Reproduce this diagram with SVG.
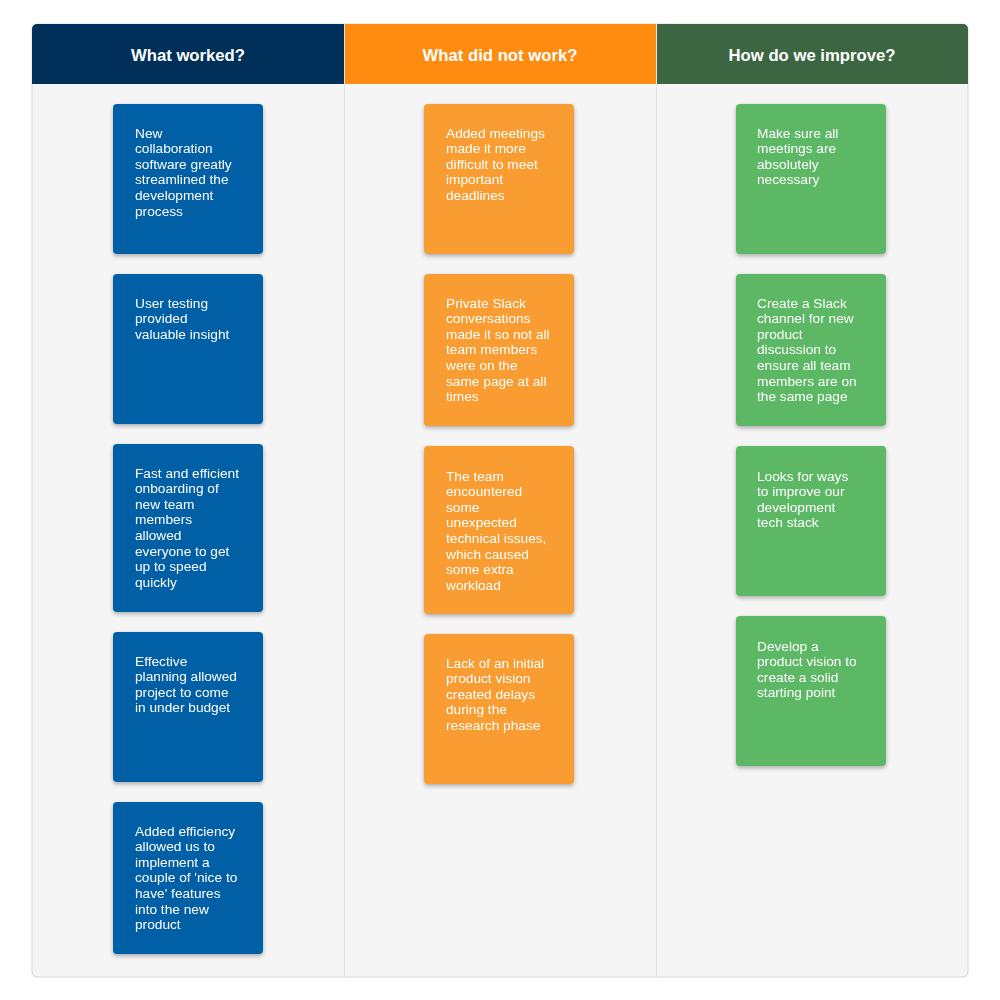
<svg xmlns="http://www.w3.org/2000/svg" width="1000" height="1000" viewBox="0 0 1000 1000">
<defs>
<filter id="sh" x="-20%" y="-20%" width="140%" height="140%">
<feDropShadow dx="0" dy="2" stdDeviation="2" flood-color="#000" flood-opacity="0.3"/>
</filter>
<clipPath id="board"><rect x="32" y="24" width="936" height="953" rx="5"/></clipPath>
</defs>
<style>
.hd{font-family:"Liberation Sans",Arial,sans-serif;font-size:16.7px;font-weight:bold;fill:#fff;text-anchor:middle}
.tx{font-family:"Liberation Sans",Arial,sans-serif;font-size:13.7px;fill:#fff}
.card{filter:url(#sh)}
.b{fill:#015ea5}.o{fill:#f99d31}.g{fill:#5db866}
</style>
<rect width="1000" height="1000" fill="#fff"/>
<g id="board-bg">
<rect x="32" y="24" width="936" height="953" rx="5" fill="#f5f5f5" stroke="#d8d8d8" stroke-width="1"/>
<g clip-path="url(#board)">
<rect x="32" y="24" width="312" height="60" fill="#00305a"/>
<rect x="344" y="24" width="312" height="60" fill="#ff8c10"/>
<rect x="656" y="24" width="312" height="60" fill="#3c6641"/>
</g>
<line x1="344.5" y1="24" x2="344.5" y2="977" stroke="#e2e2e2"/>
<line x1="656.5" y1="24" x2="656.5" y2="977" stroke="#e2e2e2"/>
<text class="hd" x="188" y="61">What worked?</text>
<text class="hd" x="500" y="61">What did not work?</text>
<text class="hd" x="812" y="61">How do we improve?</text>
</g>
<g id="connectors"></g>
<g id="c1-1" class="card"><rect class="b" x="113" y="104" width="150" height="150" rx="4"/>
<text class="tx" x="135" y="137.5"><tspan x="135">New</tspan><tspan x="135" dy="15.6">collaboration</tspan><tspan x="135" dy="15.6">software greatly</tspan><tspan x="135" dy="15.6">streamlined the</tspan><tspan x="135" dy="15.6">development</tspan><tspan x="135" dy="15.6">process</tspan></text></g>
<g id="c1-2" class="card"><rect class="b" x="113" y="274" width="150" height="150" rx="4"/>
<text class="tx" x="135" y="307.5"><tspan x="135">User testing</tspan><tspan x="135" dy="15.6">provided</tspan><tspan x="135" dy="15.6">valuable insight</tspan></text></g>
<g id="c1-3" class="card"><rect class="b" x="113" y="444" width="150" height="168" rx="4"/>
<text class="tx" x="135" y="477.5"><tspan x="135">Fast and efficient</tspan><tspan x="135" dy="15.6">onboarding of</tspan><tspan x="135" dy="15.6">new team</tspan><tspan x="135" dy="15.6">members</tspan><tspan x="135" dy="15.6">allowed</tspan><tspan x="135" dy="15.6">everyone to get</tspan><tspan x="135" dy="15.6">up to speed</tspan><tspan x="135" dy="15.6">quickly</tspan></text></g>
<g id="c1-4" class="card"><rect class="b" x="113" y="632" width="150" height="150" rx="4"/>
<text class="tx" x="135" y="665.5"><tspan x="135">Effective</tspan><tspan x="135" dy="15.6">planning allowed</tspan><tspan x="135" dy="15.6">project to come</tspan><tspan x="135" dy="15.6">in under budget</tspan></text></g>
<g id="c1-5" class="card"><rect class="b" x="113" y="802" width="150" height="152" rx="4"/>
<text class="tx" x="135" y="835.5"><tspan x="135">Added efficiency</tspan><tspan x="135" dy="15.6">allowed us to</tspan><tspan x="135" dy="15.6">implement a</tspan><tspan x="135" dy="15.6">couple of 'nice to</tspan><tspan x="135" dy="15.6">have' features</tspan><tspan x="135" dy="15.6">into the new</tspan><tspan x="135" dy="15.6">product</tspan></text></g>
<g id="c2-1" class="card"><rect class="o" x="424" y="104" width="150" height="150" rx="4"/>
<text class="tx" x="446" y="137.5"><tspan x="446">Added meetings</tspan><tspan x="446" dy="15.6">made it more</tspan><tspan x="446" dy="15.6">difficult to meet</tspan><tspan x="446" dy="15.6">important</tspan><tspan x="446" dy="15.6">deadlines</tspan></text></g>
<g id="c2-2" class="card"><rect class="o" x="424" y="274" width="150" height="152" rx="4"/>
<text class="tx" x="446" y="307.5"><tspan x="446">Private Slack</tspan><tspan x="446" dy="15.6">conversations</tspan><tspan x="446" dy="15.6">made it so not all</tspan><tspan x="446" dy="15.6">team members</tspan><tspan x="446" dy="15.6">were on the</tspan><tspan x="446" dy="15.6">same page at all</tspan><tspan x="446" dy="15.6">times</tspan></text></g>
<g id="c2-3" class="card"><rect class="o" x="424" y="446" width="150" height="168" rx="4"/>
<text class="tx" x="446" y="480.5"><tspan x="446">The team</tspan><tspan x="446" dy="15.6">encountered</tspan><tspan x="446" dy="15.6">some</tspan><tspan x="446" dy="15.6">unexpected</tspan><tspan x="446" dy="15.6">technical issues,</tspan><tspan x="446" dy="15.6">which caused</tspan><tspan x="446" dy="15.6">some extra</tspan><tspan x="446" dy="15.6">workload</tspan></text></g>
<g id="c2-4" class="card"><rect class="o" x="424" y="634" width="150" height="150" rx="4"/>
<text class="tx" x="446" y="667.5"><tspan x="446">Lack of an initial</tspan><tspan x="446" dy="15.6">product vision</tspan><tspan x="446" dy="15.6">created delays</tspan><tspan x="446" dy="15.6">during the</tspan><tspan x="446" dy="15.6">research phase</tspan></text></g>
<g id="c3-1" class="card"><rect class="g" x="736" y="104" width="150" height="150" rx="4"/>
<text class="tx" x="757" y="137.5"><tspan x="757">Make sure all</tspan><tspan x="757" dy="15.6">meetings are</tspan><tspan x="757" dy="15.6">absolutely</tspan><tspan x="757" dy="15.6">necessary</tspan></text></g>
<g id="c3-2" class="card"><rect class="g" x="736" y="274" width="150" height="152" rx="4"/>
<text class="tx" x="757" y="307.5"><tspan x="757">Create a Slack</tspan><tspan x="757" dy="15.6">channel for new</tspan><tspan x="757" dy="15.6">product</tspan><tspan x="757" dy="15.6">discussion to</tspan><tspan x="757" dy="15.6">ensure all team</tspan><tspan x="757" dy="15.6">members are on</tspan><tspan x="757" dy="15.6">the same page</tspan></text></g>
<g id="c3-3" class="card"><rect class="g" x="736" y="446" width="150" height="150" rx="4"/>
<text class="tx" x="757" y="480.5"><tspan x="757">Looks for ways</tspan><tspan x="757" dy="15.6">to improve our</tspan><tspan x="757" dy="15.6">development</tspan><tspan x="757" dy="15.6">tech stack</tspan></text></g>
<g id="c3-4" class="card"><rect class="g" x="736" y="616" width="150" height="150" rx="4"/>
<text class="tx" x="757" y="650.5"><tspan x="757">Develop a</tspan><tspan x="757" dy="15.6">product vision to</tspan><tspan x="757" dy="15.6">create a solid</tspan><tspan x="757" dy="15.6">starting point</tspan></text></g>
</svg>
